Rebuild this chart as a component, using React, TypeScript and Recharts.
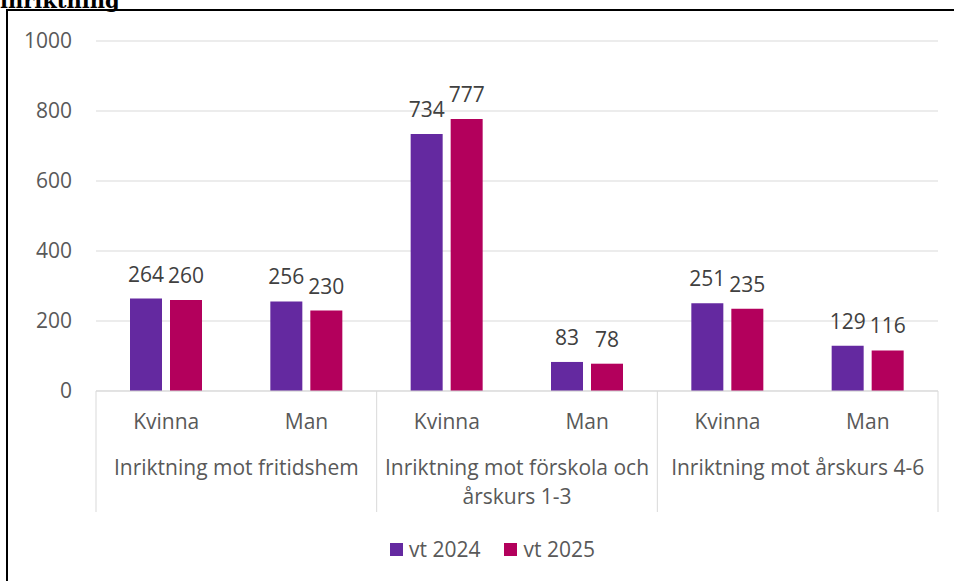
import { BarChart, Bar, XAxis, YAxis, CartesianGrid, LabelList } from 'recharts';

// kategorier och värden
const subCategories = ['Kvinna', 'Man', 'Kvinna', 'Man', 'Kvinna', 'Man'];
const groupLabels = [
  'Inriktning mot fritidshem',
  'Inriktning mot förskola och årskurs 1-3',
  'Inriktning mot årskurs 4-6',
];
const vt2024 = [264, 256, 734, 83, 251, 129];
const vt2025 = [260, 230, 777, 78, 235, 116];
const yTicks = [0, 200, 400, 600, 800, 1000];
const seriesNames = ['vt 2024', 'vt 2025'];

const data = subCategories.map((sub, i) => ({
  sub,
  group: groupLabels[Math.floor(i / 2)],
  a: vt2024[i],
  b: vt2025[i],
}));

const W = 954;
const H = 581;
const PLOT_LEFT = 96;
const PLOT_RIGHT = 938;
const PLOT_TOP = 41;
const PLOT_BOTTOM = 391;
const BAND = (PLOT_RIGHT - PLOT_LEFT) / subCategories.length;
const FONT = '"Open Sans", sans-serif';
const FS = 21;
const GRID = '#d9d9d9';
const TEXT = '#595959';
const PURPLE = '#6429A0';
const PINK = '#B3005C';

// enkel radbrytning med canvas-mätning
function wrap(label: string, maxWidth: number): string[] {
  const ctx = document.createElement('canvas').getContext('2d');
  if (!ctx) return [label];
  ctx.font = FS + 'px "Open Sans"';
  const words = label.split(' ');
  const lines: string[] = [];
  let cur = '';
  words.forEach((w) => {
    const next = cur ? cur + ' ' + w : w;
    if (cur && ctx.measureText(next).width > maxWidth) {
      lines.push(cur);
      cur = w;
    } else {
      cur = next;
    }
  });
  if (cur) lines.push(cur);
  return lines;
}

function CategoryTick(props: any) {
  const { x, y, payload } = props;
  const i = payload.index;
  const row = data[i];
  const first = i % 2 === 0;
  return (
    <g fontFamily={FONT} fontSize={FS} fill={TEXT}>
      <text x={x} y={y + 38} textAnchor="middle">
        {row.sub}
      </text>
      {first && (
        <>
          <line x1={x - BAND / 2} x2={x - BAND / 2} y1={y} y2={y + 121} stroke={GRID} strokeWidth={1} />
          <text x={x + BAND / 2} y={y + 84} textAnchor="middle">
            {wrap(row.group, BAND * 2 - 10).map((ln, k) => (
              <tspan key={k} x={x + BAND / 2} dy={k === 0 ? 0 : 29}>
                {ln}
              </tspan>
            ))}
          </text>
        </>
      )}
      {i === subCategories.length - 1 && (
        <line x1={x + BAND / 2} x2={x + BAND / 2} y1={y} y2={y + 121} stroke={GRID} strokeWidth={1} />
      )}
    </g>
  );
}

export default function App() {
  const colors = [PURPLE, PINK];
  return (
    <div style={{ position: 'absolute', left: 0, top: 0, width: W, height: H, overflow: 'hidden', background: '#fff' }}>
      <div
        style={{
          position: 'absolute',
          left: 0,
          top: -11,
          lineHeight: '24px',
          fontFamily: '"DejaVu Serif", serif',
          fontWeight: 'bold',
          fontSize: 21,
          color: '#000',
          whiteSpace: 'nowrap',
        }}
      >
        inriktning
      </div>
      <div
        style={{
          position: 'absolute',
          left: 6,
          top: 9,
          width: 980,
          height: 620,
          border: '2px solid #000',
          boxSizing: 'border-box',
        }}
      />
      <div style={{ position: 'absolute', left: 0, top: 0 }}>
        <BarChart
          width={W}
          height={H}
          data={data}
          margin={{ top: PLOT_TOP, right: W - PLOT_RIGHT, left: 0, bottom: H - PLOT_BOTTOM - 190 }}
          barSize={32}
          barGap={8}
          style={{ fontFamily: FONT }}
        >
          <CartesianGrid vertical={false} stroke={GRID} />
          <XAxis
            dataKey="sub"
            height={190}
            axisLine={{ stroke: GRID }}
            tickLine={false}
            tickSize={0}
            tickMargin={0}
            interval={0}
            tick={<CategoryTick />}
          />
          <YAxis
            width={PLOT_LEFT}
            domain={[0, 1000]}
            ticks={yTicks}
            axisLine={false}
            tickLine={false}
            tickSize={0}
            tickMargin={24}
            tick={{ fill: TEXT, fontSize: FS, fontFamily: FONT }}
          />
          <Bar dataKey="a" name={seriesNames[0]} fill={PURPLE} isAnimationActive={false}>
            <LabelList dataKey="a" position="top" offset={17} fill="#404040" fontSize={FS} fontFamily={FONT} />
          </Bar>
          <Bar dataKey="b" name={seriesNames[1]} fill={PINK} isAnimationActive={false}>
            <LabelList dataKey="b" position="top" offset={17} fill="#404040" fontSize={FS} fontFamily={FONT} />
          </Bar>
        </BarChart>
      </div>
      <div
        style={{
          position: 'absolute',
          left: 390,
          top: 535,
          display: 'flex',
          gap: 24,
          fontFamily: FONT,
          fontSize: FS,
          lineHeight: '28px',
          color: TEXT,
        }}
      >
        {seriesNames.map((n, i) => (
          <div key={n} style={{ display: 'flex', alignItems: 'center', gap: 6 }}>
            <span style={{ width: 13, height: 13, background: colors[i], display: 'inline-block' }} />
            <span>{n}</span>
          </div>
        ))}
      </div>
    </div>
  );
}
